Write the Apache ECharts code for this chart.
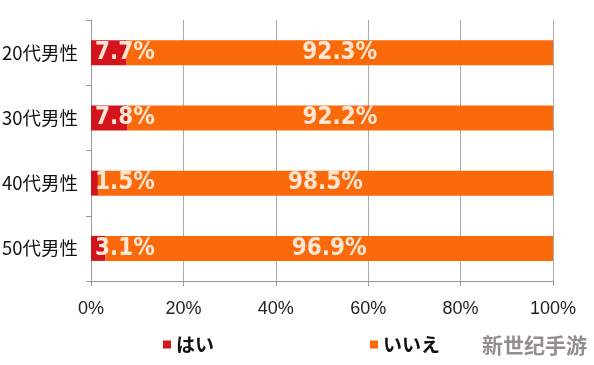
<!DOCTYPE html>
<html><head><meta charset="utf-8">
<script src="https://cdn.jsdelivr.net/npm/echarts@6/dist/echarts.min.js"></script>
<style>html,body{margin:0;padding:0;background:#fff}#c{width:594px;height:365px}</style>
</head><body><div id="c"></div>
<script>
const categories = ['20代男性','30代男性','40代男性','50代男性'];
const yesValues = [7.7, 7.8, 1.5, 3.1];
const noValues = [92.3, 92.2, 98.5, 96.9];
const xTicks = [0, 20, 40, 60, 80, 100];
const seriesNames = ['はい','いいえ'];

const chart = echarts.init(document.getElementById('c'), null, {renderer:'canvas'});
const labelFont = {
  color:'#fce6d6', fontSize:24, fontWeight:'bold',
  fontFamily:'"DejaVu Sans Condensed","Liberation Sans Narrow",sans-serif',
  formatter: p => p.value + '%'
};
const legendText = {fontSize:19, color:'#111', fontFamily:'"Noto Sans CJK JP",sans-serif', fontWeight:'bold'};
chart.setOption({
  animation:false,
  backgroundColor:'#fff',
  grid:{left:91, right:41, top:20, bottom:84, containLabel:false, outerBoundsMode:'none'},
  legend:[
    {data:[seriesNames[0]], left:158, top:330, itemWidth:8, itemHeight:8, icon:'rect', textStyle:legendText},
    {data:[seriesNames[1]], left:365, top:330, itemWidth:8, itemHeight:8, icon:'rect', textStyle:legendText}
  ],
  xAxis:{
    type:'value', min:xTicks[0], max:xTicks[xTicks.length-1], interval:20,
    axisLine:{show:true, lineStyle:{color:'#999'}},
    axisTick:{show:true, length:5, lineStyle:{color:'#999'}},
    splitLine:{show:true, lineStyle:{color:'#aaa'}},
    axisLabel:{formatter:'{value}%', fontSize:18, color:'#222', margin:19,
      fontFamily:'"Liberation Sans",Arial,sans-serif'}
  },
  yAxis:{
    type:'category', data:categories, inverse:true,
    axisLine:{show:true, lineStyle:{color:'#999'}},
    axisTick:{show:true, length:5, lineStyle:{color:'#999'}},
    axisLabel:{fontSize:18.5, color:'#111', margin:13,
      fontFamily:'"Noto Sans CJK JP",sans-serif'}
  },
  series:[
    {name:seriesNames[0], type:'bar', stack:'t', data:yesValues, barWidth:25,
     itemStyle:{color:'#d3141c'},
     label:{show:true, position:'insideLeft', offset:[-1,0], ...labelFont}},
    {name:seriesNames[1], type:'bar', stack:'t', data:noValues, barWidth:25,
     itemStyle:{color:'#fb6a0a'},
     label:{show:true, position:'inside', ...labelFont}}
  ],
  graphic:[
    {type:'text', left:482, top:335, style:{text:'新世纪手游', fontSize:21, fontWeight:'bold',
      fill:'#928e8f', fontFamily:'"Noto Sans CJK SC",sans-serif'}}
  ]
});
</script></body></html>
